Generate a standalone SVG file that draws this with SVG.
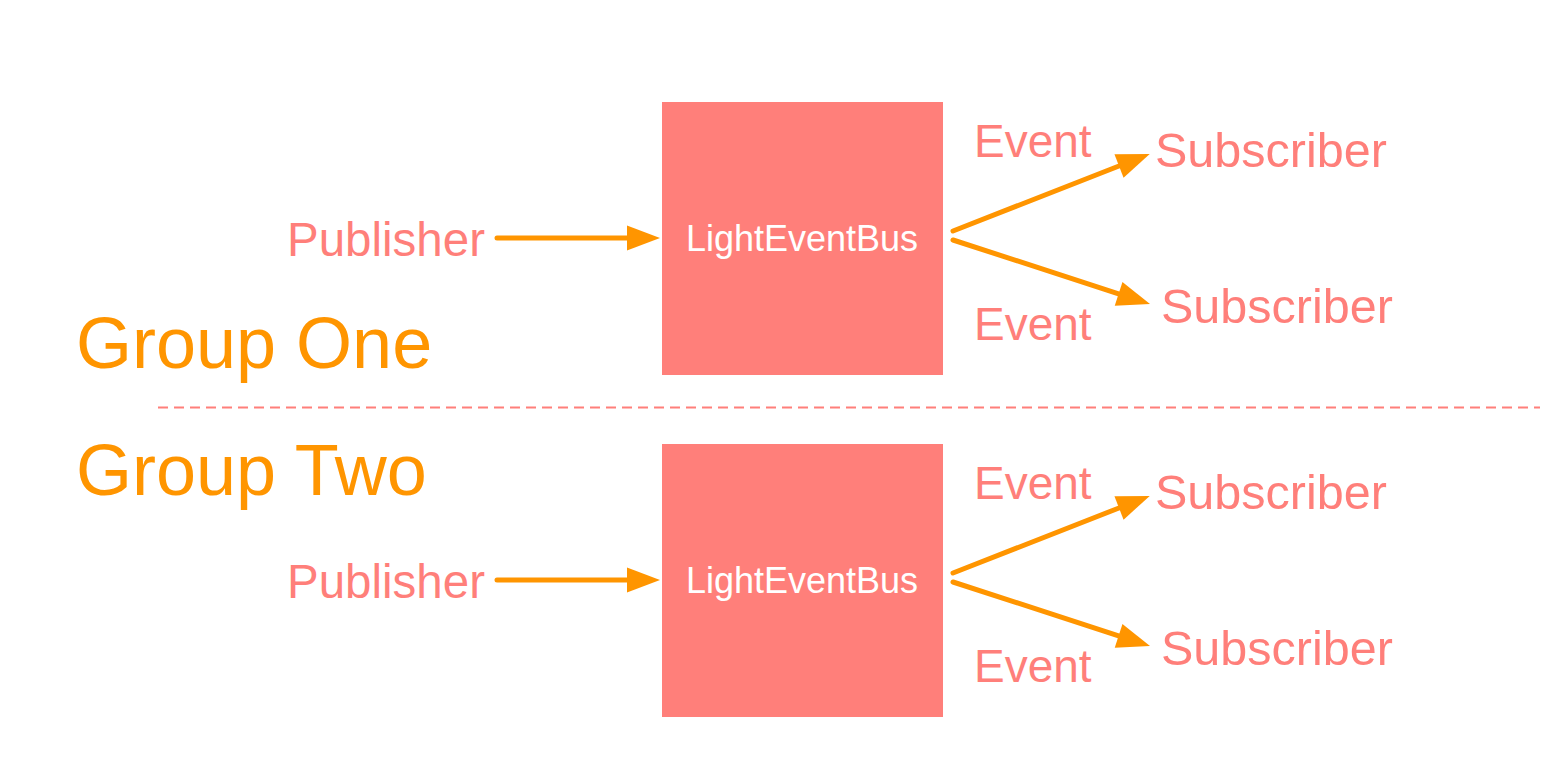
<svg xmlns="http://www.w3.org/2000/svg" width="1568" height="778" viewBox="0 0 1568 778">
  <style>
    .bus { fill: #FF7F7A; }
    .busl { fill: #FFFFFF; font-family: "Liberation Sans", Arial, sans-serif; font-size: 36px; text-anchor: middle; }
    .lbl { fill: #FF7F7A; font-family: "Liberation Sans", Arial, sans-serif; font-size: 47px; }
    .pub { font-size: 47.5px; }
    .sub { font-size: 48.5px; }
    .evt { font-size: 46px; }
    .grp { fill: #FF9500; font-family: "Liberation Sans", Arial, sans-serif; font-size: 72px; }
    .arr { stroke: #FF9500; stroke-width: 5; fill: none; stroke-linecap: round; marker-end: url(#head); }
    .sep { stroke: #FF7F7A; stroke-width: 2; stroke-dasharray: 10 6; fill: none; }
  </style>
  <defs>
    <marker id="head" markerUnits="userSpaceOnUse" markerWidth="34" markerHeight="26" refX="0" refY="12.5" orient="auto" overflow="visible">
      <path d="M0,0 L33,12.5 L0,25 Z" fill="#FF9500"/>
    </marker>
  </defs>
  <rect width="1568" height="778" fill="#FFFFFF"/>

  <g id="labels">
    <text class="grp" x="76" y="368">Group One</text>
    <text class="grp" x="76" y="495">Group Two</text>
  </g>

  <g id="separator">
    <line class="sep" x1="158" y1="407.5" x2="1540" y2="407.5"/>
  </g>

  <!-- Group One -->
  <g id="publisher1"><text class="lbl pub" x="287" y="256">Publisher</text></g>
  <g id="bus1">
    <rect class="bus" x="662" y="102" width="281" height="273"/>
    <text class="busl" x="802" y="251">LightEventBus</text>
  </g>
  <g id="subscriber1a"><text class="lbl sub" x="1155" y="167">Subscriber</text></g>
  <g id="subscriber1b"><text class="lbl sub" x="1161" y="323">Subscriber</text></g>
  <g id="event1a"><text class="lbl evt" x="974" y="157">Event</text></g>
  <g id="event1b"><text class="lbl evt" x="974" y="340">Event</text></g>

  <!-- Group Two -->
  <g id="publisher2"><text class="lbl pub" x="287" y="598">Publisher</text></g>
  <g id="bus2">
    <rect class="bus" x="662" y="444" width="281" height="273"/>
    <text class="busl" x="802" y="593">LightEventBus</text>
  </g>
  <g id="subscriber2a"><text class="lbl sub" x="1155" y="509">Subscriber</text></g>
  <g id="subscriber2b"><text class="lbl sub" x="1161" y="665">Subscriber</text></g>
  <g id="event2a"><text class="lbl evt" x="974" y="499">Event</text></g>
  <g id="event2b"><text class="lbl evt" x="974" y="682">Event</text></g>

  <g id="connectors">
    <line class="arr" x1="497" y1="238" x2="627" y2="238"/>
    <line class="arr" x1="953" y1="231" x2="1119" y2="166"/>
    <line class="arr" x1="953" y1="240" x2="1118.6" y2="293.8"/>
    <line class="arr" x1="497" y1="580" x2="627" y2="580"/>
    <line class="arr" x1="953" y1="573" x2="1119" y2="508"/>
    <line class="arr" x1="953" y1="582" x2="1118.6" y2="635.8"/>
  </g>
</svg>
